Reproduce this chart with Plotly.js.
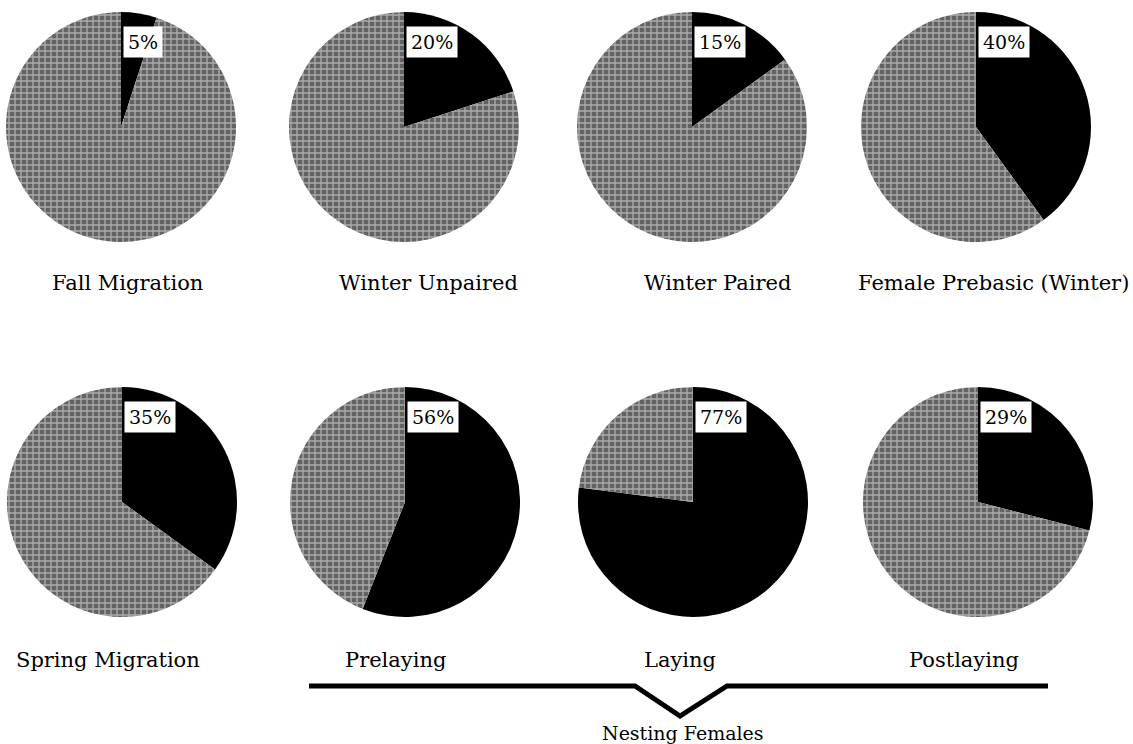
<!DOCTYPE html>
<html>
<head>
<meta charset="utf-8">
<script src="https://cdn.plot.ly/plotly-3.0.1.min.js"></script>
<style>html,body{margin:0;padding:0;background:#fff;}#chart{width:1133px;height:744px;}</style>
</head>
<body>
<div id="chart"></div>
<script>
// ---- data ----
const categories = ["Fall Migration", "Winter Unpaired", "Winter Paired", "Female Prebasic (Winter)",
                    "Spring Migration", "Prelaying", "Laying", "Postlaying"];
const percentValues = [5, 20, 15, 40, 35, 56, 77, 29];
const percentLabels = ["5%", "20%", "15%", "40%", "35%", "56%", "77%", "29%"];
const groupLabel = "Nesting Females";

// ---- layout constants ----
const W = 1133, H = 744;
const centersX = [[121, 404, 692, 976], [122, 405, 693, 978]];
const centersY = [127, 502];
const R = 115;
const labelX = [127, 428, 717, 993, 108, 395, 680, 964];
const labelY = [283, 660];
const serif = "DejaVu Serif, Liberation Serif, serif";

const px = x => x / W;
const py = y => 1 - y / H;

const traces = [];
const annotations = [];
categories.forEach((cat, i) => {
  const col = i % 4, row = Math.floor(i / 4);
  const cx = centersX[row][col], cy = centersY[row];
  traces.push({
    type: "pie",
    values: [percentValues[i], 100 - percentValues[i]],
    labels: ["Value", "Other"],
    sort: false,
    direction: "clockwise",
    rotation: 0,
    textinfo: "none",
    hoverinfo: "skip",
    showlegend: false,
    domain: {x: [px(cx - R), px(cx + R)], y: [py(cy + R), py(cy - R)]},
    marker: {
      colors: ["#000000", "#636363"],
      line: {width: 0},
      pattern: {shape: ["", "+"], fgcolor: ["#000000", "#f2f2f2"], size: 6, solidity: 0.4, fillmode: "overlay"}
    }
  });
  annotations.push({
    xref: "paper", yref: "paper",
    x: px(cx + 2), y: py(cy - R + 30),
    xanchor: "left", yanchor: "middle",
    text: percentLabels[i], showarrow: false,
    bgcolor: "#ffffff", borderpad: 4,
    font: {family: serif, size: 19, color: "#000"}
  });
  annotations.push({
    xref: "paper", yref: "paper",
    x: px(labelX[i]), y: py(labelY[row]),
    xanchor: "center", yanchor: "middle",
    text: cat, showarrow: false,
    font: {family: serif, size: 21, color: "#000"}
  });
});
annotations.push({
  xref: "paper", yref: "paper",
  x: px(683), y: py(733),
  xanchor: "center", yanchor: "middle",
  text: groupLabel, showarrow: false,
  font: {family: serif, size: 19, color: "#000"}
});

const bracket = [[309, 686], [635, 686], [680, 716], [727, 686], [1048, 686]];
const path = bracket.map((p, k) => (k ? "L" : "M") + px(p[0]).toFixed(5) + "," + py(p[1]).toFixed(5)).join(" ");

const layout = {
  width: W, height: H,
  margin: {l: 0, r: 0, t: 0, b: 0},
  paper_bgcolor: "#ffffff",
  plot_bgcolor: "#ffffff",
  showlegend: false,
  annotations: annotations,
  shapes: [{type: "path", xref: "paper", yref: "paper", path: path, line: {color: "#000", width: 5}}]
};

Plotly.newPlot("chart", traces, layout, {displayModeBar: false, staticPlot: true});
</script>
</body>
</html>
